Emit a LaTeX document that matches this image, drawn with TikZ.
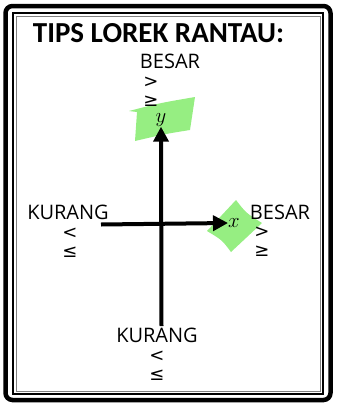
\documentclass[tikz,border=0pt]{standalone}
\usepackage{fontspec}
\setmainfont{Open Sans}
\newfontfamily\headfont{Carlito}
\newfontfamily\symfont{DejaVu Sans}
\usetikzlibrary{arrows.meta, positioning}
\definecolor{patchgreen}{RGB}{150,238,130}

\begin{document}
\begin{tikzpicture}[x=1pt, y=-1pt,
    heading/.style={font=\headfont\bfseries\fontsize{29}{29}\selectfont, inner sep=0pt},
    word/.style={font=\fontsize{20}{20}\selectfont, inner sep=0pt},
    sym/.style={font=\symfont\fontsize{18}{18}\selectfont, inner sep=0pt},
    var/.style={font=\fontsize{21}{21}\selectfont, inner sep=0pt},
    axisarrow/.style={-{Triangle[length=15pt,width=15pt]}, line width=4pt},
    patch/.style={fill=patchgreen, draw=none},
]
    \useasboundingbox (0,0) rectangle (339,407);

    % Frame
    \draw[line width=4.5pt, rounded corners=7pt] (5.5,6) rectangle (330.5,400);
    \draw[line width=1.8pt] (13,13) rectangle (323,394);
    \draw[line width=0.6pt, gray] (16,16) rectangle (320,391);

    % Title
    \node[heading] (title) at (158.5,33) {TIPS LOREK RANTAU:};

    % Green patches
    \fill[patch] (129,111) .. controls (160,103) .. (195,97) -- (190,130)
        .. controls (165,134) .. (135,141) -- (137,112) -- cycle;
    \fill[patch] (207,231) -- (236,200) .. controls (246,213) .. (262,223)
        -- (231,252) .. controls (222,240) .. cycle;

    % Variables
    \node[var] (yvar) at (161,120) {$y$};
    \node[var] (xvar) at (234,223) {$x$};

    % Top label
    \node[word] (besarY) at (170,61) {BESAR};
    \node[sym] (gtY) at (151,82) {>};
    \node[sym, below=8pt of gtY] (geY) {≥};

    % Right label
    \node[word] (besarX) at (280,212) {BESAR};
    \node[sym] (gtX) at (262,232) {>};
    \node[sym, below=8pt of gtX] (geX) {≥};

    % Left label
    \node[word] (kurangX) at (68,212) {KURANG};
    \node[sym] (ltX) at (70,233) {<};
    \node[sym, below=8pt of ltX] (leX) {≤};

    % Bottom label
    \node[word] (kurangY) at (157,335) {KURANG};
    \node[sym] (ltY) at (157,356) {<};
    \node[sym, below=8pt of ltY] (leY) {≤};

    % Axes
    \coordinate (ystart) at (161.5,326);
    \coordinate (xstart) at (101,224.5);
    \draw[axisarrow] (ystart) -- (yvar.south);
    \draw[axisarrow] (xstart) -- (xvar.west);
\end{tikzpicture}
\end{document}
